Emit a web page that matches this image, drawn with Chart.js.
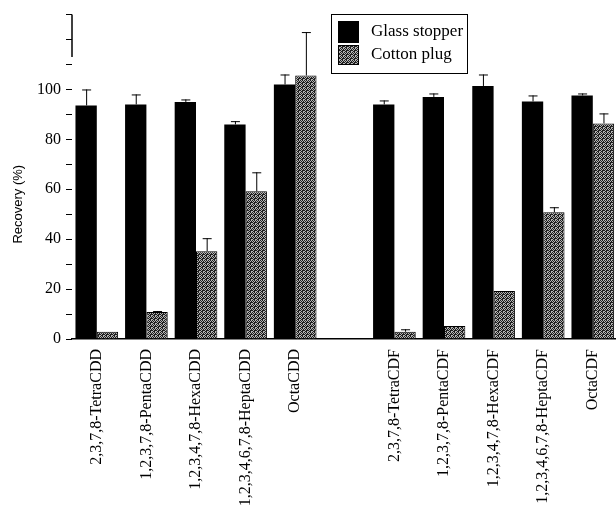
<!DOCTYPE html>
<html>
<head>
<meta charset="utf-8">
<script src="https://cdn.jsdelivr.net/npm/chart.js@4.4.1/dist/chart.umd.min.js"></script>
<style>
    html, body { margin: 0; padding: 0; background: #fff; overflow: hidden; }
    #wrap { width: 616px; height: 509px; overflow: hidden; }
</style>
</head>
<body>
<div id="wrap"><canvas id="recoveryChart" width="622" height="509"></canvas></div>
<script>
// --- Data ---
const congeners = [
    '2,3,7,8-TetraCDD', '1,2,3,7,8-PentaCDD', '1,2,3,4,7,8-HexaCDD', '1,2,3,4,6,7,8-HeptaCDD', 'OctaCDD',
    '',
    '2,3,7,8-TetraCDF', '1,2,3,7,8-PentaCDF', '1,2,3,4,7,8-HexaCDF', '1,2,3,4,6,7,8-HeptaCDF', 'OctaCDF'
];
const glassStopper = [93.6, 94, 95, 86, 102, null, 94, 97, 101.4, 95.2, 97.6];
const glassStopperErr = [6.4, 4, 1, 1.3, 4, null, 1.6, 1.4, 4.6, 2.4, 0.8];
const cottonPlug = [2.9, 10.8, 35.2, 59.2, 105.6, null, 2.9, 5.2, 19.2, 50.8, 86.4];
const cottonPlugErr = [0, 0.4, 5.2, 7.6, 17.4, null, 1, 0, 0, 2, 4];
const yTickLabels = [0, 20, 40, 60, 80, 100];

const serif = "'Liberation Serif', 'Times New Roman', serif";

// stippled grey fill for the cotton plug bars
function makeStipple() {
    const c = document.createElement('canvas');
    c.width = 4; c.height = 4;
    const g = c.getContext('2d');
    g.fillStyle = '#b4b4b4';
    g.fillRect(0, 0, 4, 4);
    g.fillStyle = '#1e1e1e';
    [[0, 0], [2, 0], [1, 1], [3, 1], [0, 2], [3, 2], [1, 3], [2, 3], [2, 2]].forEach(p => g.fillRect(p[0], p[1], 1, 1));
    const ctx = document.getElementById('recoveryChart').getContext('2d');
    return ctx.createPattern(c, 'repeat');
}
const stipple = makeStipple();

// --- Error bars ---
const errorBars = {
    id: 'errorBars',
    afterDatasetsDraw(chart) {
        const ctx = chart.ctx;
        const y = chart.scales.y;
        ctx.save();
        ctx.strokeStyle = '#000';
        ctx.lineWidth = 1;
        chart.data.datasets.forEach((ds, i) => {
            const meta = chart.getDatasetMeta(i);
            ds.errors.forEach((err, j) => {
                if (!err || ds.data[j] == null) return;
                const bar = meta.data[j];
                const top = y.getPixelForValue(ds.data[j] + err);
                ctx.beginPath();
                ctx.moveTo(bar.x + 0.5, bar.y);
                ctx.lineTo(bar.x + 0.5, top);
                ctx.moveTo(bar.x - 4, top + 0.5);
                ctx.lineTo(bar.x + 5, top + 0.5);
                ctx.stroke();
            });
        });
        ctx.restore();
    }
};

// --- Axis title, top axis segment and legend box ---
const decorations = {
    id: 'decorations',
    afterDraw(chart) {
        const ctx = chart.ctx;
        const y = chart.scales.y;
        const left = chart.chartArea.left;
        ctx.save();
        // upper part of the y axis line
        ctx.strokeStyle = '#000';
        ctx.lineWidth = 1.5;
        ctx.beginPath();
        ctx.moveTo(left, y.getPixelForValue(113));
        ctx.lineTo(left, y.getPixelForValue(130));
        ctx.stroke();

        // y axis title
        ctx.translate(18, y.getPixelForValue(54));
        ctx.rotate(-Math.PI / 2);
        ctx.fillStyle = '#000';
        ctx.font = "13px 'Liberation Sans', Arial, sans-serif";
        ctx.textAlign = 'center';
        ctx.textBaseline = 'middle';
        ctx.fillText('Recovery (%)', 0, 0);
        ctx.restore();

        // legend
        ctx.save();
        ctx.strokeStyle = '#000';
        ctx.lineWidth = 1;
        ctx.strokeRect(331.5, 14.5, 136, 59);
        ctx.fillStyle = '#000';
        ctx.fillRect(338, 21, 21, 22);
        ctx.fillStyle = stipple;
        ctx.fillRect(338, 45, 21, 20);
        ctx.strokeRect(338.5, 45.5, 20, 19);
        ctx.fillStyle = '#000';
        ctx.font = '17px ' + serif;
        ctx.textBaseline = 'middle';
        ctx.fillText(chart.data.datasets[0].label, 371, 32);
        ctx.fillText(chart.data.datasets[1].label, 371, 55);
        ctx.restore();
    }
};

const ctx = document.getElementById('recoveryChart').getContext('2d');
new Chart(ctx, {
    type: 'bar',
    data: {
        labels: congeners,
        datasets: [
            {
                label: 'Glass stopper',
                data: glassStopper,
                errors: glassStopperErr,
                backgroundColor: '#000',
                borderColor: '#000',
                borderWidth: 0,
                categoryPercentage: 0.86,
                barPercentage: 1.0
            },
            {
                label: 'Cotton plug',
                data: cottonPlug,
                errors: cottonPlugErr,
                backgroundColor: stipple,
                borderColor: '#000',
                borderWidth: 1,
                categoryPercentage: 0.86,
                barPercentage: 1.0
            }
        ]
    },
    options: {
        responsive: false,
        animation: false,
        layout: { padding: { top: 14, left: 0, right: 0, bottom: 0 } },
        plugins: {
            legend: { display: false },
            tooltip: { enabled: false }
        },
        scales: {
            x: {
                grid: { display: false, drawTicks: false },
                border: { display: true, color: '#000', width: 1.5 },
                ticks: {
                    color: '#000',
                    font: { family: serif, size: 16 },
                    minRotation: 90,
                    maxRotation: 90,
                    autoSkip: false,
                    padding: 10
                },
                afterFit(scale) { scale.height = 170; }
            },
            y: {
                min: 0,
                max: 130,
                grid: {
                    drawOnChartArea: false,
                    drawTicks: true,
                    tickLength: 6,
                    color: '#000'
                },
                border: { display: false },
                ticks: {
                    stepSize: 10,
                    color: '#000',
                    font: { family: serif, size: 16 },
                    padding: 5,
                    callback: v => yTickLabels.includes(v) ? v : ''
                },
                afterFit(scale) { scale.width = 72; }
            }
        }
    },
    plugins: [errorBars, decorations]
});
</script>
</body>
</html>
